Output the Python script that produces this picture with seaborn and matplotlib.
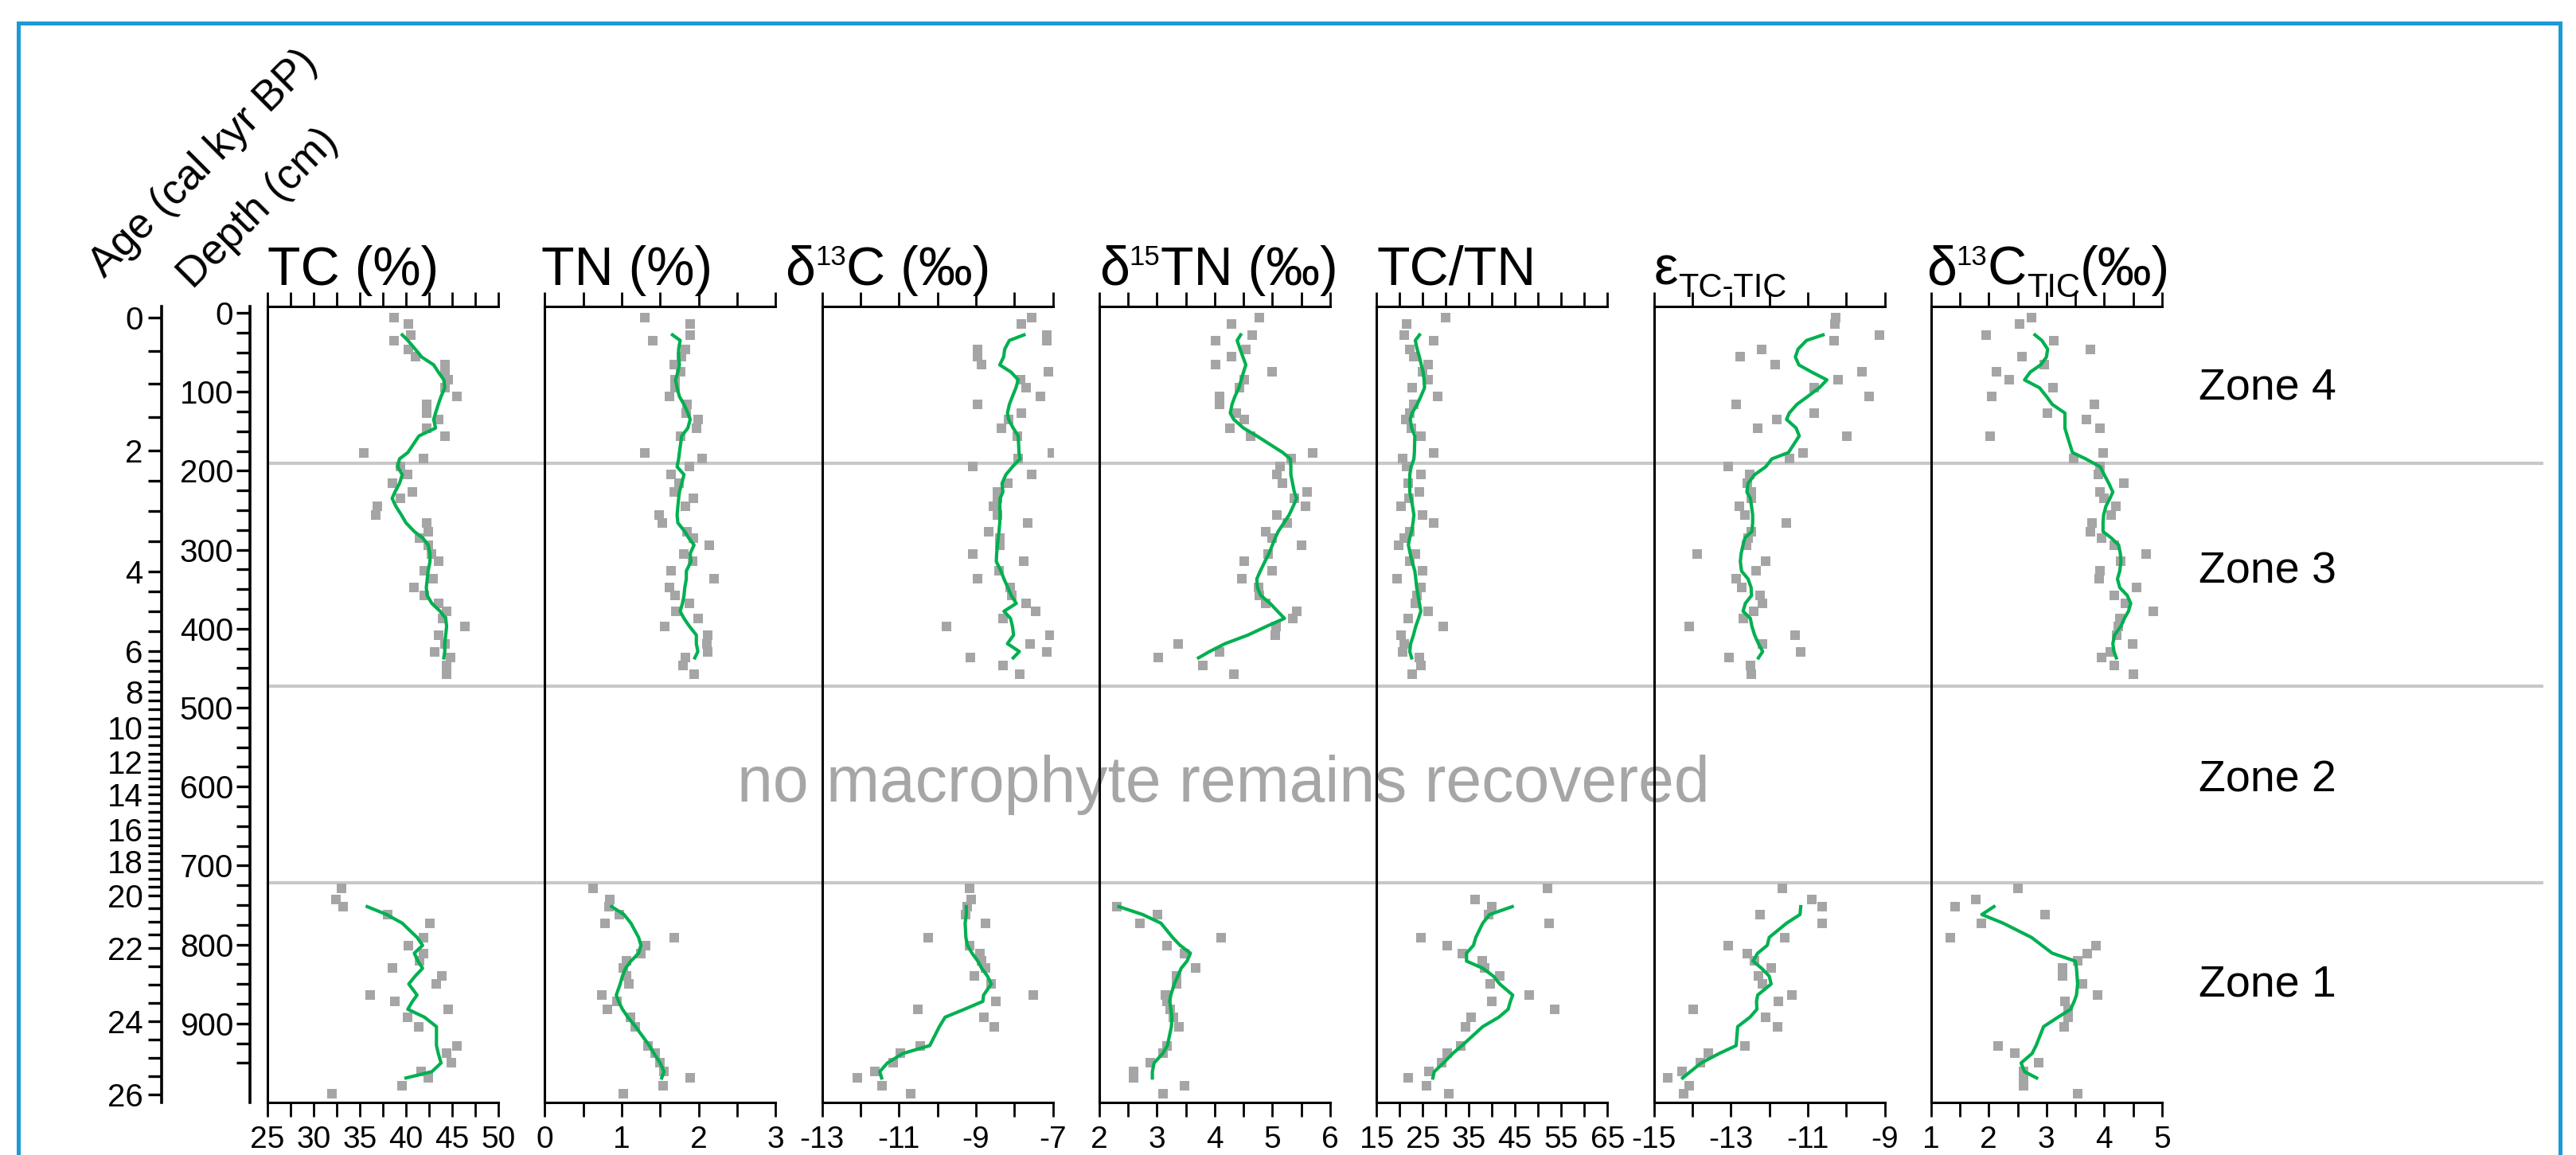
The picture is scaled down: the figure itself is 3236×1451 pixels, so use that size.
import numpy as np
import pandas as pd
import matplotlib
matplotlib.use('Agg')
import matplotlib.pyplot as plt
from matplotlib.patches import Rectangle
from matplotlib.ticker import FixedLocator
import seaborn as sns

# ---- sample depths (cm) ----
depth_up = [6, 14, 28, 35, 46, 56, 66, 75, 85, 95, 106, 116, 127, 135, 146, 156, 177, 185, 195, 205,
            216, 227, 235, 245, 256, 266, 277, 285, 294, 305, 315, 327, 337, 348, 358, 368, 378, 387,
            397, 408, 419, 429, 437, 447, 458]
depth_lo = [729, 743, 752, 762, 773, 791, 801, 811, 821, 830, 840, 850, 864, 872, 882, 892, 904, 928,
            938, 950, 961, 969, 979, 989]
line_depth_up = depth_up[2:43]
line_depth_lo = depth_lo[2:22]

# ---- TC (%) ----
tc_up = [38.7, 40.3, 40.5, 38.7, 40.3, 41.0, 44.2, 44.2, 44.6, 44.2, 45.5, 42.2, 42.2, 43.5, 42.2,
         44.2, 35.4, 41.9, 39.4, 40.2, 38.5, 40.7, 39.4, 36.9, 36.7, 42.2, 42.4, 41.5, 42.4, 42.8,
         43.5, 42.0, 42.9, 40.9, 42.0, 43.5, 44.4, 44.0, 46.4, 43.5, 44.2, 43.1, 44.8, 44.4, 44.4]
tc_line_up = [39.6, 40.2, 41.0, 41.7, 43.0, 43.5, 44.1, 44.2, 43.8, 43.5, 43.2, 43.0, 43.2, 41.4,
              40.2, 39.3, 39.1, 39.6, 39.3, 38.8, 38.5, 38.9, 39.5, 40.0, 40.9, 41.8, 42.4, 42.6,
              42.6, 42.4, 42.3, 42.2, 42.3, 42.8, 43.7, 44.3, 44.4, 44.3, 44.2, 44.2, 44.1]
tc_lo = [33.0, 32.4, 33.2, 38.0, 42.6, 41.9, 40.3, 41.9, 41.5, 38.5, 43.9, 43.3, 36.1, 38.8, 44.6,
         40.2, 41.4, 45.5, 44.4, 44.9, 41.6, 42.4, 39.6, 32.0]
tc_line_lo = [35.8, 37.9, 39.6, 41.2, 41.8, 40.9, 41.3, 41.8, 41.0, 40.3, 41.2, 40.7, 40.2, 42.0,
              43.3, 43.3, 43.5, 43.8, 42.8, 40.0]

# ---- TN (%) ----
tn_up = [1.30, 1.89, 1.89, 1.40, 1.83, 1.78, 1.68, 1.77, 1.69, 1.69, 1.62, 1.85, 1.84, 1.99, 1.97,
         1.77, 1.30, 2.04, 1.88, 1.64, 1.75, 1.68, 1.93, 1.83, 1.49, 1.53, 1.85, 1.93, 2.14, 1.81,
         1.92, 1.64, 2.20, 1.62, 1.69, 1.88, 1.70, 1.99, 1.56, 2.12, 2.11, 2.12, 1.83, 1.80, 1.94]
tn_line_up = [1.66, 1.76, 1.74, 1.74, 1.75, 1.73, 1.70, 1.72, 1.75, 1.81, 1.86, 1.89, 1.86, 1.78,
              1.75, 1.74, 1.72, 1.81, 1.78, 1.75, 1.74, 1.73, 1.72, 1.73, 1.82, 1.87, 1.94, 1.89,
              1.90, 1.84, 1.84, 1.82, 1.81, 1.79, 1.76, 1.81, 1.88, 1.97, 1.97, 1.99, 1.95]
tn_lo = [0.63, 0.85, 0.83, 0.97, 0.78, 1.68, 1.31, 1.25, 1.06, 1.02, 1.06, 1.09, 0.74, 0.94, 0.81,
         1.11, 1.18, 1.34, 1.43, 1.50, 1.55, 1.89, 1.54, 1.02]
tn_line_lo = [0.87, 1.03, 1.12, 1.22, 1.25, 1.22, 1.12, 1.05, 1.01, 0.98, 0.93, 0.96, 1.01, 1.08,
              1.18, 1.36, 1.42, 1.50, 1.55, 1.52]

# ---- d13C (permil) ----
d13c_up = [-7.55, -7.81, -7.16, -7.16, -8.96, -8.96, -8.86, -7.11, -7.85, -7.69, -7.32, -8.96, -7.81,
           -8.14, -8.34, -7.92, -7.02, -7.90, -9.08, -7.55, -8.17, -8.43, -8.43, -8.55, -8.45, -7.65,
           -8.66, -8.38, -8.38, -9.08, -7.76, -8.40, -8.96, -8.11, -8.06, -7.69, -7.44, -8.29, -9.77,
           -7.07, -7.60, -7.16, -9.14, -8.29, -7.86]
d13c_line_up = [-7.75, -8.13, -8.25, -8.28, -8.38, -8.09, -7.90, -7.96, -8.05, -8.13, -8.18, -8.15,
                -8.03, -7.90, -7.88, -7.85, -8.05, -8.22, -8.32, -8.30, -8.37, -8.38, -8.37, -8.38,
                -8.40, -8.42, -8.44, -8.46, -8.47, -8.35, -8.27, -8.17, -8.08, -7.95, -8.27, -8.10,
                -8.05, -8.02, -8.18, -7.87, -8.03]
d13c_lo = [-9.16, -9.12, -9.22, -9.27, -8.75, -10.23, -9.16, -8.90, -8.85, -8.75, -9.03, -8.61, -7.50,
           -8.48, -10.51, -8.79, -8.53, -10.45, -10.97, -11.15, -11.62, -12.08, -11.43, -10.69]
d13c_line_lo = [-9.25, -9.25, -9.28, -9.26, -9.22, -9.10, -8.95, -8.85, -8.70, -8.60, -8.80, -8.82,
                -9.30, -9.80, -9.95, -10.20, -10.90, -11.30, -11.50, -11.45]

# ---- d15TN (permil) ----
d15n_up = [4.78, 4.29, 4.65, 4.02, 4.54, 4.29, 4.02, 5.00, 4.51, 4.43, 4.08, 4.08, 4.37, 4.51, 4.26,
           4.62, 5.70, 5.32, 5.13, 5.08, 5.17, 5.60, 5.38, 5.57, 5.08, 5.25, 4.89, 5.00, 5.50, 4.92,
           4.51, 5.00, 4.47, 4.76, 4.77, 4.89, 5.42, 5.35, 5.06, 5.05, 3.37, 4.08, 3.02, 3.80, 4.33]
d15n_line_up = [4.45, 4.39, 4.44, 4.49, 4.54, 4.50, 4.46, 4.42, 4.35, 4.30, 4.27, 4.33, 4.50, 4.73,
                5.18, 5.31, 5.32, 5.32, 5.35, 5.38, 5.42, 5.36, 5.29, 5.20, 5.10, 5.05, 5.00, 4.94,
                4.87, 4.79, 4.73, 4.74, 4.80, 4.96, 5.09, 5.21, 4.90, 4.58, 4.18, 3.91, 3.72]
d15n_lo = [np.nan, np.nan, 2.31, 3.01, 2.71, 4.11, 3.17, 3.48, np.nan, 3.67, 3.34, 3.34, 3.14, 3.17,
           3.23, 3.29, 3.38, 3.17, 3.11, 2.89, 2.59, 2.59, 3.48, 3.11]
d15n_line_lo = [2.34, 2.75, 3.07, 3.27, 3.40, 3.58, 3.52, 3.42, 3.36, 3.30, 3.24, 3.22, 3.24, 3.26,
                3.25, 3.18, 3.10, 2.95, 2.92, 2.92]

# ---- TC/TN ----
cn_up = [29.9, 21.5, 21.0, 27.3, 22.2, 23.1, 26.1, 24.9, 26.1, 22.8, 28.3, 23.1, 22.2, 21.3, 22.5,
         24.6, 27.3, 20.7, 21.5, 24.6, 21.9, 24.3, 22.0, 20.3, 24.9, 27.3, 22.2, 21.0, 19.8, 23.4,
         22.2, 24.9, 19.5, 24.6, 23.7, 23.4, 26.1, 21.9, 29.5, 20.3, 21.0, 20.6, 24.3, 24.6, 22.7]
cn_line_up = [24.3, 23.4, 23.8, 24.3, 24.7, 25.1, 25.3, 25.4, 24.6, 23.8, 22.7, 22.3, 22.6, 23.3,
              23.2, 23.1, 22.5, 22.2, 22.2, 22.2, 22.5, 22.8, 23.1, 22.9, 22.6, 22.2, 21.9, 22.3,
              22.7, 23.3, 23.5, 23.7, 24.0, 24.3, 24.6, 24.1, 23.5, 23.0, 22.4, 22.2, 22.6]
cn_lo = [52.0, 36.3, 39.9, 39.3, 52.3, 24.6, 30.3, 33.6, 37.9, 38.4, 41.7, 39.6, 48.0, 39.9, 53.6,
         35.5, 34.3, 33.3, 30.3, 29.1, 26.3, 21.9, 25.8, 30.7]
cn_line_lo = [44.4, 39.5, 38.0, 36.5, 36.0, 34.5, 34.5, 38.0, 40.3, 41.7, 44.5, 44.0, 43.5, 41.5,
              38.0, 33.5, 31.5, 29.5, 27.5, 27.2]

# ---- epsilon TC-TIC ----
eps_up = [-10.28, -10.30, -9.14, -10.31, -12.20, -12.75, -11.85, -9.58, -10.21, -10.83, -9.41, -12.86,
          -10.83, -11.80, -12.31, -9.99, -11.12, -11.47, -13.07, -12.50, -12.57, -12.46, -12.46,
          -12.78, -12.63, -11.56, -12.46, -12.55, -12.60, -13.87, -12.09, -12.34, -12.85, -12.72,
          -12.24, -12.17, -12.40, -12.68, -14.08, -11.32, -12.17, -11.18, -13.04, -12.49, -12.46]
eps_line_up = [-10.60, -11.03, -11.25, -11.32, -11.23, -10.90, -10.50, -10.70, -11.00, -11.28, -11.48,
               -11.55, -11.30, -11.22, -11.50, -11.93, -12.09, -12.38, -12.55, -12.58, -12.49, -12.46,
               -12.43, -12.43, -12.45, -12.63, -12.68, -12.73, -12.75, -12.72, -12.55, -12.47, -12.46,
               -12.62, -12.68, -12.49, -12.45, -12.38, -12.28, -12.17, -12.28]
eps_lo = [-11.66, -10.89, -10.63, -12.24, -10.63, -11.59, -13.07, -12.56, -12.38, -11.95, -12.28,
          -12.17, -11.41, -11.76, -13.97, -12.09, -11.79, -12.63, -13.59, -13.79, -14.27, -14.64,
          -14.08, -14.23]
eps_line_lo = [-11.18, -11.20, -11.55, -12.00, -12.05, -12.30, -12.42, -12.20, -12.00, -11.95, -12.30,
               -12.33, -12.32, -12.50, -12.82, -12.86, -13.30, -13.77, -14.05, -14.25]

# ---- d13C TIC (permil) ----
tic_up = [2.74, 2.53, 1.95, 3.13, 3.76, 2.57, 2.96, 2.14, 2.36, 3.11, 2.05, 3.83, 3.01, 3.69, 3.92,
          2.02, 3.98, 3.47, 3.92, 3.90, 4.34, 3.92, 4.00, 4.20, 4.12, 3.79, 3.76, 3.95, 4.18, 4.73,
          4.29, 3.92, 3.91, 4.56, 4.18, 4.37, 4.85, 4.27, 4.24, 4.22, 4.49, 4.10, 3.95, 4.18, 4.51]
tic_line_up = [2.80, 2.92, 3.02, 3.00, 2.90, 2.72, 2.62, 2.88, 3.00, 3.10, 3.32, 3.32, 3.32, 3.36,
               3.45, 3.68, 3.93, 4.00, 4.08, 4.15, 4.10, 4.03, 3.99, 3.98, 3.98, 4.12, 4.25, 4.28,
               4.29, 4.27, 4.23, 4.27, 4.40, 4.46, 4.42, 4.35, 4.29, 4.18, 4.15, 4.17, 4.21]
tic_lo = [2.50, 1.77, 1.42, 2.97, 1.87, 1.34, 3.86, 3.71, 3.54, 3.28, 3.28, 3.63, 3.89, 3.32, 3.37,
          3.37, 3.30, 2.16, 2.45, 2.86, 2.60, 2.60, 2.60, 3.54]
tic_line_lo = [2.09, 1.88, 2.25, 2.74, 2.92, 3.10, 3.50, 3.52, 3.53, 3.54, 3.52, 3.48, 3.42, 3.20,
               2.95, 2.82, 2.75, 2.56, 2.62, 2.83]

# ---- age model ticks, zones ----
age_kyr = [0, 2, 4, 6, 8, 10, 12, 14, 16, 18, 20, 22, 24, 26]
age_depth_cm = [6, 174, 328, 428, 480, 525, 569, 610, 654, 695, 738, 804, 897, 990]
zone_bounds = [191, 473, 722]
zone_names = ['Zone 4', 'Zone 3', 'Zone 2', 'Zone 1']
zone_label_depth = [95, 328, 592, 851]

# title pieces: (text, kind) with kind 'n' normal, 'sup', 'sub'
titles = [[('TC (%)', 'n')],
          [('TN (%)', 'n')],
          [('δ', 'n'), ('13', 'sup'), ('C (‰)', 'n')],
          [('δ', 'n'), ('15', 'sup'), ('TN (‰)', 'n')],
          [('TC/TN', 'n')],
          [('ε', 'n'), ('TC-TIC', 'sub')],
          [('δ', 'n'), ('13', 'sup'), ('C', 'n'), ('TIC', 'sub'), ('(‰)', 'n')]]
title_shift = [0, -4, -46, 0, 0, 0, -6]
xlims = [(25, 50), (0, 3), (-13, -7), (2, 6), (15, 65), (-15, -9), (1, 5)]
major_steps = [5, 1, 2, 1, 10, 2, 1]
minor_steps = [2.5, 0.5, 1, 0.5, 5, 1, 0.5]
series = [(tc_up, tc_line_up, tc_lo, tc_line_lo),
          (tn_up, tn_line_up, tn_lo, tn_line_lo),
          (d13c_up, d13c_line_up, d13c_lo, d13c_line_lo),
          (d15n_up, d15n_line_up, d15n_lo, d15n_line_lo),
          (cn_up, cn_line_up, cn_lo, cn_line_lo),
          (eps_up, eps_line_up, eps_lo, eps_line_lo),
          (tic_up, tic_line_up, tic_lo, tic_line_lo)]

plt.rcParams['font.family'] = ['Liberation Sans', 'DejaVu Sans']
plt.rcParams['axes.unicode_minus'] = False

W, H = 3236, 1451
GREEN = '#00b050'
GRAY = '#a5a5a5'
YLIM = (1000, -8)
TITLE_BASE = 358
piece_style = {'n': (49, 0), 'sup': (25, -25), 'sub': (30, 15)}


def box(x0, y0, w, h):
    # pixel box with top-left origin -> figure fraction
    return [x0 / W, 1 - (y0 + h) / H, w / W, h / H]


fig = plt.figure(figsize=(W / 100, H / 100), dpi=100)
renderer = fig.canvas.get_renderer()


def rich_title(x, pieces):
    for txt, kind in pieces:
        size, dy = piece_style[kind]
        t = fig.text(x / W, 1 - (TITLE_BASE + dy) / H, txt, fontsize=size,
                     ha='left', va='baseline')
        x += t.get_window_extent(renderer=renderer).width


# zone lines + labels behind the panels
axz = fig.add_axes(box(336, 385, 3195 - 336, 1000), zorder=0)
axz.set_xlim(0, 1)
axz.set_ylim(*YLIM)
axz.axis('off')
for d in zone_bounds:
    axz.axhline(d, color='#c8c8c8', lw=3)
for name, d in zip(zone_names, zone_label_depth):
    axz.text(0.8485, d, name, transform=axz.get_yaxis_transform(), fontsize=40,
             ha='left', va='center')
axz.text(0.42, 598, 'no macrophyte remains recovered', transform=axz.get_yaxis_transform(),
         fontsize=58, color='#a6a6a6', ha='center', va='center')

# proxy panels
for i, (pieces, (up, lup, lo, llo)) in enumerate(zip(titles, series)):
    left = 336 + 348.3 * i
    ax = fig.add_axes(box(left, 385, 290, 1000), zorder=2)
    ax.patch.set_alpha(0)
    sns.scatterplot(x=up, y=depth_up, ax=ax, marker='s', s=72, color=GRAY, linewidth=0, zorder=2)
    sns.scatterplot(x=lo, y=depth_lo, ax=ax, marker='s', s=72, color=GRAY, linewidth=0, zorder=2)
    sns.lineplot(x=lup, y=line_depth_up, ax=ax, sort=False, estimator=None, color=GREEN, lw=3, zorder=3)
    sns.lineplot(x=llo, y=line_depth_lo, ax=ax, sort=False, estimator=None, color=GREEN, lw=3, zorder=3)

    lo_x, hi_x = xlims[i]
    ax.set_xlim(lo_x, hi_x)
    ax.set_ylim(*YLIM)
    ax.xaxis.set_major_locator(FixedLocator(np.arange(lo_x, hi_x + 1e-6, major_steps[i])))
    ax.xaxis.set_minor_locator(FixedLocator(np.arange(lo_x, hi_x + 1e-6, minor_steps[i])))
    ax.xaxis.set_major_formatter(plt.FuncFormatter(lambda v, p: '%g' % v))
    ax.set_yticks([])
    ax.set_xlabel('')
    ax.set_ylabel('')
    ax.spines['right'].set_visible(False)
    for s in ['left', 'top', 'bottom']:
        ax.spines[s].set_linewidth(2.2)
        ax.spines[s].set_color('black')
    ax.tick_params(axis='x', which='both', top=True, bottom=True, direction='out',
                   length=13, width=2, labelsize=28, pad=8, labeltop=False, colors='black')
    rich_title(left + title_shift[i], pieces)

# depth axis
axd = fig.add_axes(box(314, 385, 1, 1000), zorder=2)
axd.set_ylim(*YLIM)
axd.set_xticks([])
for s in ['right', 'top', 'bottom']:
    axd.spines[s].set_visible(False)
axd.spines['left'].set_linewidth(2.6)
axd.yaxis.set_major_locator(FixedLocator(np.arange(0, 901, 100)))
axd.yaxis.set_minor_locator(FixedLocator(np.arange(0, 951, 25)))
axd.tick_params(axis='y', which='both', direction='out', length=12, width=2.4, labelsize=29, pad=3)

# age axis
axa = fig.add_axes(box(203, 385, 1, 1000), zorder=2)
axa.set_ylim(*YLIM)
axa.set_xticks([])
for s in ['right', 'top', 'bottom']:
    axa.spines[s].set_visible(False)
axa.spines['left'].set_linewidth(2.6)
axa.yaxis.set_major_locator(FixedLocator(age_depth_cm))
axa.yaxis.set_major_formatter(plt.FixedFormatter([str(a) for a in age_kyr]))
axa.yaxis.set_minor_locator(FixedLocator(np.interp(np.arange(0, 26.01, 0.5), age_kyr, age_depth_cm)))
axa.tick_params(axis='y', which='both', direction='out', length=12, width=2.4, labelsize=29, pad=5)

# rotated axis headers
fig.text(256 / W, 1 - 206 / H, 'Age (cal kyr BP)', fontsize=38, rotation=45,
         ha='center', va='center', rotation_mode='anchor')
fig.text(325 / W, 1 - 262 / H, 'Depth (cm)', fontsize=38, rotation=45,
         ha='center', va='center', rotation_mode='anchor')

# blue frame
fig.patches.append(Rectangle((23 / W, -0.05), (3216 - 23) / W, 1.05 - 29 / H,
                             transform=fig.transFigure, fill=False, ec='#1b9ad6', lw=3.6))

fig.savefig('out.png', dpi=100)
